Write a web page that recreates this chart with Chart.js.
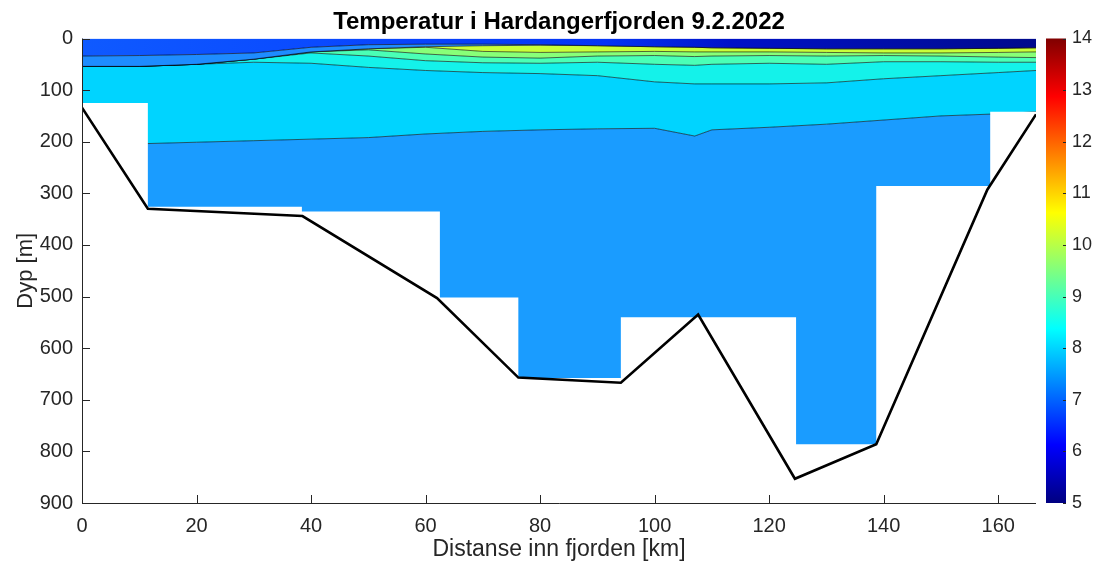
<!DOCTYPE html>
<html>
<head>
<meta charset="utf-8">
<script src="https://cdn.jsdelivr.net/npm/chart.js@4.4.0/dist/chart.umd.min.js"></script>
<style>
  html, body { margin: 0; padding: 0; background: #fff; }
  #wrap { width: 1103px; height: 565px; }
</style>
</head>
<body>
<div id="wrap"><canvas id="c"></canvas></div>
<script>
// stasjoner langs fjorden (km) for isotermene
const stationKm = [0, 10, 20, 30, 40, 50, 60, 70, 80, 90, 100, 107, 110, 120, 130, 140, 150, 160, 166.6];

// nedre grense (m) for hvert temperaturlag, fra overflaten og ned
const bottomSurface = [34, 33, 31, 28, 17, 12, 11, 11, 12, 14, 16, 17, 18, 19, 20, 20, 20, 19, 18];
const bottomBlue    = [54, 54, 50, 40, 26, 20, 16, 14, 13, 14, 16, 17, 18, 19, 20, 20, 20, 19, 18];
const bottomYellow  = [54, 54, 50, 40, 26, 20, 17, 25, 27, 26, 25, 26, 26, 26, 27, 28, 28, 27, 26];
const bottomGreen   = [54, 54, 50, 40, 26, 22, 30, 36, 38, 34, 33, 35, 34, 33, 34, 33, 34, 36, 37];
const bottomAqua    = [54, 54, 50, 40, 28, 34, 43, 47, 48, 46, 50, 52, 50, 48, 50, 45, 45, 46, 46];
const bottomLight   = [54, 54, 50, 46, 48, 56, 62, 66, 68, 72, 84, 88, 88, 88, 86, 78, 72, 66, 62];
const bottomCyan    = [210, 204, 201, 198, 195, 192, 185, 180, 177, 175, 174, 189, 177, 172, 166, 158, 150, 146, 142];

// dypeste maling per stasjon (hvitt under)
const maskKm    = [0, 11.5, 38.4, 62.5, 76.2, 94.1, 124.7, 138.7, 158.6, 166.6];
const maskDepth = [125, 326, 335, 502, 658, 540, 786, 286, 142, 142];

// bunnprofil
const bedKm    = [0, 11.5, 38.5, 62, 76.2, 94.1, 107.6, 124.5, 138.7, 158.1, 166.6];
const bedDepth = [134, 330, 344, 503, 657, 667, 535, 853, 786, 293, 147];

const xTicks  = [0, 20, 40, 60, 80, 100, 120, 140, 160];
const yTicks  = [0, 100, 200, 300, 400, 500, 600, 700, 800, 900];
const cbTicks = [5, 6, 7, 8, 9, 10, 11, 12, 13, 14];

const toPts = (xs, ys) => xs.map((x, i) => ({ x: x, y: ys[i] }));

// jet-fargeskala
const jetStops = [
  [0, '#000080'], [0.125, '#0000ff'], [0.375, '#00ffff'],
  [0.625, '#ffff00'], [0.875, '#ff0000'], [1, '#800000']
];

const surfaceFill = (ctx) => {
  const chart = ctx.chart;
  if (!chart.chartArea) return '#0d55ff';
  const xs = chart.scales.x;
  const g = chart.ctx.createLinearGradient(xs.getPixelForValue(0), 0, xs.getPixelForValue(166.6), 0);
  g.addColorStop(0, '#0f5aff');
  g.addColorStop(0.25, '#0a4aff');
  g.addColorStop(0.55, '#0535f5');
  g.addColorStop(0.68, '#0012c8');
  g.addColorStop(1, '#000a8c');
  return g;
};

const layer = (data, color, fill) => ({
  data: toPts(stationKm, data),
  backgroundColor: color,
  borderColor: 'rgba(0,0,0,0.75)',
  borderWidth: 0.8,
  pointRadius: 0,
  tension: 0,
  fill: fill
});

const datasets = [
  { // bunn
    data: toPts(bedKm, bedDepth),
    borderColor: '#000',
    borderWidth: 2.6,
    pointRadius: 0,
    fill: false,
    order: 0
  },
  { // maske
    data: toPts(maskKm, maskDepth),
    stepped: 'before',
    borderWidth: 0,
    pointRadius: 0,
    backgroundColor: '#fff',
    fill: { value: 900 },
    order: 1
  },
  Object.assign(layer(bottomSurface, surfaceFill, { value: 0 }), { order: 2 }),
  Object.assign(layer(bottomBlue, '#1e8cff', '-1'), { order: 3 }),
  Object.assign(layer(bottomYellow, '#c8ff3a', '-1'), { order: 4 }),
  Object.assign(layer(bottomGreen, '#88ff78', '-1'), { order: 5 }),
  Object.assign(layer(bottomAqua, '#4affb6', '-1'), { order: 6 }),
  Object.assign(layer(bottomLight, '#14f2ea', '-1'), { order: 7 }),
  Object.assign(layer(bottomCyan, '#00d4ff', '-1'), { order: 8 }),
  Object.assign(layer(bottomCyan, '#1a9cff', { value: 900 }), { order: 9, borderWidth: 0 })
];

const axisColor = '#262626';

// tickmerker innover, som i MATLAB
const innerTicks = {
  id: 'innerTicks',
  afterDatasetsDraw(chart) {
    const { ctx, chartArea, scales } = chart;
    ctx.save();
    ctx.strokeStyle = axisColor;
    ctx.lineWidth = 1;
    yTicks.forEach(v => {
      const y = Math.round(scales.y.getPixelForValue(v)) + 0.5;
      ctx.beginPath();
      ctx.moveTo(chartArea.left, y);
      ctx.lineTo(chartArea.left + 8, y);
      ctx.stroke();
    });
    xTicks.forEach(v => {
      const x = Math.round(scales.x.getPixelForValue(v)) + 0.5;
      ctx.beginPath();
      ctx.moveTo(x, chartArea.bottom);
      ctx.lineTo(x, chartArea.bottom - 8);
      ctx.stroke();
    });
    ctx.beginPath();
    ctx.moveTo(chartArea.left + 0.5, chartArea.top);
    ctx.lineTo(chartArea.left + 0.5, chartArea.bottom + 0.5);
    ctx.lineTo(chartArea.right, chartArea.bottom + 0.5);
    ctx.stroke();
    ctx.restore();
  }
};

// fargeskala til høyre
const colorBar = {
  id: 'colorBar',
  afterDraw(chart) {
    const { ctx, chartArea, scales } = chart;
    const cb = scales.cb;
    const x0 = chartArea.right + 10, w = 20;
    const top = cb.getPixelForValue(14), bot = cb.getPixelForValue(5);
    const g = ctx.createLinearGradient(0, bot, 0, top);
    jetStops.forEach(s => g.addColorStop(s[0], s[1]));
    ctx.save();
    ctx.fillStyle = g;
    ctx.fillRect(x0, top, w, bot - top);
    ctx.strokeStyle = axisColor;
    ctx.lineWidth = 1;
    cbTicks.forEach(v => {
      const y = Math.round(cb.getPixelForValue(v)) + 0.5;
      ctx.beginPath();
      ctx.moveTo(x0 + w - 3, y);
      ctx.lineTo(x0 + w, y);
      ctx.stroke();
    });
    ctx.restore();
  }
};

const fontFam = '"Liberation Sans", Arial, Helvetica, sans-serif';
Chart.defaults.font.family = fontFam;
Chart.defaults.color = axisColor;

new Chart(document.getElementById('c'), {
  type: 'line',
  data: { datasets: datasets },
  options: {
    responsive: true,
    maintainAspectRatio: false,
    animation: false,
    events: [],
    layout: { padding: 0 },
    plugins: {
      legend: { display: false },
      tooltip: { enabled: false },
      title: {
        display: true,
        text: 'Temperatur i Hardangerfjorden 9.2.2022',
        fullSize: false,
        color: '#000',
        font: { size: 24, weight: 'bold', lineHeight: 1 },
        padding: { top: 10, bottom: 4.5 }
      }
    },
    scales: {
      x: {
        type: 'linear',
        min: 0,
        max: 166.6,
        z: 1,
        afterFit: s => { s.height = 62; },
        afterBuildTicks: s => { s.ticks = xTicks.map(v => ({ value: v })); },
        grid: { display: false, drawTicks: false },
        border: { display: false },
        ticks: { font: { size: 20 }, padding: 11, maxRotation: 0 },
        title: {
          display: true,
          text: 'Distanse inn fjorden [km]',
          font: { size: 23 },
          padding: { top: 0, bottom: 2 }
        }
      },
      y: {
        type: 'linear',
        reverse: true,
        min: 0,
        max: 900,
        z: 1,
        afterFit: s => { s.width = 82; },
        afterBuildTicks: s => { s.ticks = yTicks.map(v => ({ value: v })); },
        grid: { display: false, drawTicks: false },
        border: { display: false },
        ticks: { font: { size: 20 }, padding: 9 },
        title: {
          display: true,
          text: 'Dyp [m]',
          font: { size: 22 },
          padding: { top: 13, bottom: 0 }
        }
      },
      cb: {
        type: 'linear',
        position: 'right',
        min: 5,
        max: 14,
        afterFit: s => { s.width = 67; },
        afterBuildTicks: s => { s.ticks = cbTicks.map(v => ({ value: v })); },
        // tickLength flytter tallene forbi fargestolpen uten ekstra padding i toppen
        grid: { display: false, drawTicks: true, tickLength: 36 },
        border: { display: false },
        ticks: { font: { size: 18 }, padding: 0 }
      }
    }
  },
  plugins: [innerTicks, colorBar]
});
</script>
</body>
</html>
